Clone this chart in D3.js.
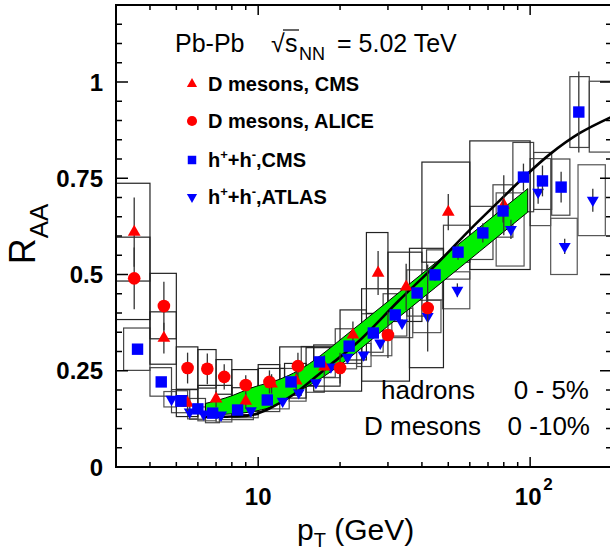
<!DOCTYPE html>
<html>
<head>
<meta charset="utf-8">
<script src="https://cdn.jsdelivr.net/npm/d3@7"></script>
<style>
  html, body { margin: 0; padding: 0; background: #fff; }
  svg { display: block; font-family: "Liberation Sans", Arial, Helvetica, sans-serif; }
</style>
</head>
<body>
<svg id="chart" width="610" height="554"></svg>
<script>
// Rows: [pT (GeV), R_AA, stat. error, syst. error, bin low, bin high]
const dMesonsALICE = [
  [3.5, 0.49, 0.08, 0.107, 3, 4],
  [4.5, 0.418, 0.063, 0.085, 4, 5],
  [5.5, 0.257, 0.04, 0.055, 5, 6],
  [6.5, 0.255, 0.04, 0.05, 6, 7],
  [7.5, 0.234, 0.033, 0.045, 7, 8],
  [9, 0.213, 0.025, 0.04, 8, 10],
  [11, 0.221, 0.03, 0.045, 10, 12],
  [14, 0.262, 0.035, 0.05, 12, 16],
  [20, 0.257, 0.04, 0.06, 16, 24],
  [30, 0.343, 0.06, 0.12, 24, 36],
  [42, 0.413, 0.113, 0.155, 36, 48]
];

const dMesonsCMS = [
  [3.5, 0.61, 0.09, 0.127, 3, 4],
  [4.5, 0.335, 0.04, 0.068, 4, 5],
  [5.5, 0.166, 0.02, 0.035, 5, 6],
  [7, 0.177, 0.022, 0.035, 6, 8],
  [9, 0.171, 0.02, 0.035, 8, 10],
  [11.2, 0.216, 0.025, 0.04, 10, 12.5],
  [13.8, 0.224, 0.025, 0.045, 12.5, 15],
  [17.5, 0.26, 0.03, 0.05, 15, 20],
  [22.3, 0.343, 0.035, 0.065, 20, 25],
  [27.6, 0.504, 0.057, 0.105, 25, 30],
  [35, 0.468, 0.06, 0.09, 30, 40],
  [50, 0.662, 0.047, 0.13, 40, 60],
  [80, 0.68, 0.078, 0.167, 60, 100]
];

const hadronsCMS = [
  [3.6, 0.306, 0.005, 0.055, 3.2, 4],
  [4.4, 0.221, 0.004, 0.037, 4, 4.8],
  [5.2, 0.171, 0.003, 0.03, 4.8, 5.6],
  [6.0, 0.151, 0.003, 0.027, 5.6, 6.4],
  [6.8, 0.140, 0.003, 0.025, 6.4, 7.2],
  [8.4, 0.148, 0.003, 0.025, 7.2, 9.6],
  [10.8, 0.174, 0.004, 0.03, 9.6, 12],
  [13.2, 0.221, 0.004, 0.035, 12, 14.4],
  [16.8, 0.273, 0.005, 0.04, 14.4, 19.2],
  [21.6, 0.314, 0.006, 0.045, 19.2, 24],
  [26.5, 0.348, 0.008, 0.05, 24, 28.8],
  [31.9, 0.395, 0.01, 0.055, 28.8, 35.2],
  [38.4, 0.452, 0.012, 0.06, 35.2, 41.6],
  [44.7, 0.499, 0.015, 0.065, 41.6, 48],
  [54.3, 0.558, 0.02, 0.07, 48, 60],
  [67, 0.608, 0.025, 0.069, 60, 73],
  [79.5, 0.665, 0.03, 0.068, 73, 86.4],
  [94.5, 0.753, 0.035, 0.09, 86.4, 103],
  [111, 0.743, 0.04, 0.074, 103, 120],
  [130, 0.727, 0.04, 0.073, 120, 140],
  [151, 0.922, 0.105, 0.092, 140, 165],
  [210, 0.91, 0.1, 0.092, 165, 250]
];

const hadronsATLAS = [
  [4.8, 0.176, 0.003, 0.02, 4.5, 5],
  [5.25, 0.178, 0.003, 0.02, 5, 5.5],
  [5.6, 0.143, 0.003, 0.018, 5.5, 6],
  [6.3, 0.138, 0.003, 0.018, 6, 7],
  [7.3, 0.135, 0.003, 0.018, 7, 8],
  [9.4, 0.146, 0.003, 0.018, 8, 10],
  [12.3, 0.171, 0.004, 0.02, 10, 13],
  [14.1, 0.193, 0.004, 0.022, 13, 15],
  [16.3, 0.219, 0.005, 0.025, 15, 17.5],
  [18.5, 0.26, 0.005, 0.028, 17.5, 20],
  [21.3, 0.285, 0.006, 0.03, 20, 23],
  [24.4, 0.291, 0.006, 0.03, 23, 26],
  [28.1, 0.322, 0.008, 0.033, 26, 31],
  [33.8, 0.374, 0.01, 0.038, 31, 37],
  [42, 0.391, 0.013, 0.042, 37, 47],
  [54, 0.459, 0.018, 0.048, 47.6, 60],
  [85, 0.617, 0.025, 0.095, 75, 95],
  [107, 0.714, 0.03, 0.087, 100, 119],
  [134, 0.573, 0.02, 0.073, 119, 149],
  [170, 0.693, 0.03, 0.092, 150, 189]
];

// Model band for hadrons (lower / upper edge) and the model curve
const bandPt    = [6.4, 8, 9.4, 12, 14, 17, 20, 30, 45, 65, 98];
const bandUpper = [0.165, 0.185, 0.205, 0.228, 0.25, 0.29, 0.33, 0.43, 0.531, 0.622, 0.723];
const bandLower = [0.135, 0.138, 0.143, 0.165, 0.195, 0.23, 0.265, 0.366, 0.467, 0.559, 0.662];

const curvePt = [6.2, 8, 9.5, 11, 13.4, 16, 18.4, 23.7, 33, 45, 60, 73, 94, 118, 152, 200];
const curveR  = [0.13, 0.131, 0.135, 0.152, 0.187, 0.23, 0.265, 0.33, 0.433, 0.525, 0.616, 0.675, 0.75, 0.812, 0.867, 0.91];

// Axis ticks
const xMajorTicks = [10, 100];
const xMinorTicks = [4, 5, 6, 7, 8, 9, 20, 30, 40, 50, 60, 70, 80, 90, 200];
const yMajorTicks = [0, 0.25, 0.5, 0.75, 1];
const yMinorTicks = [0.05, 0.1, 0.15, 0.2, 0.3, 0.35, 0.4, 0.45, 0.55, 0.6, 0.65, 0.7, 0.8, 0.85, 0.9, 0.95, 1.05, 1.1, 1.15];
const yTickLabels = ["0", "0.25", "0.5", "0.75", "1"];

const W = 610, H = 554;
const X0 = 116, X1 = 612, Y0 = 467, Y1 = 5;

const x = d3.scaleLog().domain([3, 200]).range([X0, X1]);
const y = d3.scaleLinear().domain([0, 1.2]).range([Y0, Y1]);

const svg = d3.select("#chart");
svg.append("rect").attr("width", W).attr("height", H).attr("fill", "#fff");

svg.append("defs").append("clipPath").attr("id", "plotArea")
  .append("rect").attr("x", X0).attr("y", Y1).attr("width", X1 - X0).attr("height", Y0 - Y1);

const plot = svg.append("g").attr("clip-path", "url(#plotArea)");

// Systematic uncertainty boxes
function sysBoxes(data, stroke) {
  plot.append("g").selectAll("rect").data(data).join("rect")
    .attr("x", d => x(d[4]))
    .attr("width", d => x(d[5]) - x(d[4]))
    .attr("y", d => y(d[1] + d[3]))
    .attr("height", d => y(d[1] - d[3]) - y(d[1] + d[3]))
    .attr("fill", "none")
    .attr("stroke", stroke)
    .attr("stroke-width", 1.2);
}
sysBoxes(hadronsATLAS, "#555");
sysBoxes(hadronsCMS, "#444");
sysBoxes(dMesonsALICE, "#222");
sysBoxes(dMesonsCMS, "#222");

// Model band
const bandData = bandPt.map((p, i) => ({ p, lo: bandLower[i], hi: bandUpper[i] }));
plot.append("path").datum(bandData)
  .attr("d", d3.area().x(d => x(d.p)).y0(d => y(d.lo)).y1(d => y(d.hi)).curve(d3.curveMonotoneX))
  .attr("fill", "#00f000")
  .attr("stroke", "#000")
  .attr("stroke-width", 1);

// Model curve
const curveData = curvePt.map((p, i) => ({ p, r: curveR[i] }));
plot.append("path").datum(curveData)
  .attr("d", d3.line().x(d => x(d.p)).y(d => y(d.r)).curve(d3.curveCatmullRom.alpha(0.5)))
  .attr("fill", "none")
  .attr("stroke", "#000")
  .attr("stroke-width", 2.6);

// Statistical error bars and markers
function series(data, color, symbolType, size, flip) {
  const g = plot.append("g");
  g.selectAll("line").data(data).join("line")
    .attr("x1", d => x(d[0])).attr("x2", d => x(d[0]))
    .attr("y1", d => y(d[1] - d[2])).attr("y2", d => y(d[1] + d[2]))
    .attr("stroke", "#333").attr("stroke-width", 1.3);
  g.selectAll("path").data(data).join("path")
    .attr("d", d3.symbol().type(symbolType).size(size))
    .attr("transform", d => `translate(${x(d[0])},${y(d[1])})` + (flip ? " rotate(180)" : ""))
    .attr("fill", color);
}
series(hadronsATLAS, "#0000ff", d3.symbolTriangle, 62, true);
series(dMesonsALICE, "#ff0000", d3.symbolCircle, 125, false);
series(dMesonsCMS, "#ff0000", d3.symbolTriangle, 70, false);
series(hadronsCMS, "#0000ff", d3.symbolSquare, 130, false);

// Frame and ticks
const axes = svg.append("g").attr("stroke", "#000");
axes.append("rect").attr("x", X0).attr("y", Y1).attr("width", X1 - X0).attr("height", Y0 - Y1)
  .attr("fill", "none").attr("stroke-width", 2);

function xTicks(vals, len) {
  axes.append("g").selectAll("line").data(vals).join("line")
    .attr("x1", d => x(d)).attr("x2", d => x(d))
    .attr("y1", Y0).attr("y2", Y0 - len).attr("stroke-width", 1.5);
  axes.append("g").selectAll("line").data(vals).join("line")
    .attr("x1", d => x(d)).attr("x2", d => x(d))
    .attr("y1", Y1).attr("y2", Y1 + len).attr("stroke-width", 1.5);
}
xTicks(xMajorTicks, 10);
xTicks(xMinorTicks, 5);

function yTicks(vals, len) {
  axes.append("g").selectAll("line").data(vals).join("line")
    .attr("x1", X0).attr("x2", X0 + len)
    .attr("y1", d => y(d)).attr("y2", d => y(d)).attr("stroke-width", 1.5);
  axes.append("g").selectAll("line").data(vals).join("line")
    .attr("x1", X1).attr("x2", X1 - len)
    .attr("y1", d => y(d)).attr("y2", d => y(d)).attr("stroke-width", 1.5);
}
yTicks(yMajorTicks, 12);
yTicks(yMinorTicks, 6);

// Tick labels
svg.append("g").selectAll("text").data(yMajorTicks).join("text")
  .attr("x", 103).attr("y", d => y(d) + 8.5)
  .attr("text-anchor", "end")
  .style("font-size", "24px").style("font-weight", "bold")
  .text((d, i) => yTickLabels[i]);

svg.append("text").attr("x", x(10)).attr("y", 505).attr("text-anchor", "middle")
  .style("font-size", "24px").style("font-weight", "bold").text("10");
svg.append("text").attr("x", x(100) - 2).attr("y", 505).attr("text-anchor", "middle")
  .style("font-size", "24px").style("font-weight", "bold").text("10");
svg.append("text").attr("x", x(100) + 13).attr("y", 490)
  .style("font-size", "17px").style("font-weight", "bold").text("2");

// Axis titles
const xt = svg.append("text").attr("x", 297).attr("y", 540).style("font-size", "30px");
xt.append("tspan").text("p");
xt.append("tspan").attr("dy", 7).style("font-size", "20px").text("T");
xt.append("tspan").attr("dy", -7).text(" (GeV)");

const yt = svg.append("text").attr("transform", "translate(35,234) rotate(-90)")
  .attr("text-anchor", "middle").style("font-size", "36px");
yt.append("tspan").text("R");
yt.append("tspan").attr("dy", 13).style("font-size", "26px").text("AA");

// Header
svg.append("text").attr("x", 175).attr("y", 52).style("font-size", "25px").text("Pb-Pb");
svg.append("text").attr("x", 271).attr("y", 52).style("font-size", "25px").text("\u221A");
svg.append("text").attr("x", 285).attr("y", 52).style("font-size", "25px").text("s");
svg.append("line").attr("x1", 283).attr("x2", 299).attr("y1", 30).attr("y2", 30)
  .attr("stroke", "#000").attr("stroke-width", 1.2);
svg.append("text").attr("x", 299).attr("y", 60).style("font-size", "18px").text("NN");
svg.append("text").attr("x", 337).attr("y", 52).style("font-size", "25px").text("= 5.02 TeV");

// Legend
const legendItems = [
  { label: "D mesons, CMS", color: "#ff0000", type: d3.symbolTriangle, size: 45, flip: false, y: 84 },
  { label: "D mesons, ALICE", color: "#ff0000", type: d3.symbolCircle, size: 80, flip: false, y: 121 },
  { label: "CMS", color: "#0000ff", type: d3.symbolSquare, size: 72, flip: false, y: 160 },
  { label: "ATLAS", color: "#0000ff", type: d3.symbolTriangle, size: 45, flip: true, y: 197 }
];
const legend = svg.append("g");
legendItems.forEach(it => {
  legend.append("path")
    .attr("d", d3.symbol().type(it.type).size(it.size)())
    .attr("transform", `translate(192,${it.y})` + (it.flip ? " rotate(180)" : ""))
    .attr("fill", it.color);
  const t = legend.append("text").attr("x", 208).attr("y", it.y + 7)
    .style("font-size", "20px").style("font-weight", "bold");
  if (it.color === "#0000ff") {
    t.append("tspan").text("h");
    t.append("tspan").attr("dy", -8).style("font-size", "13px").text("+");
    t.append("tspan").attr("dy", 8).text("+h");
    t.append("tspan").attr("dy", -8).style("font-size", "13px").text("-");
    t.append("tspan").attr("dy", 8).text("," + it.label);
  } else {
    t.text(it.label);
  }
});

// Centrality notes
svg.append("text").attr("x", 381).attr("y", 399).style("font-size", "26px").text("hadrons");
svg.append("text").attr("x", 589).attr("y", 399).attr("text-anchor", "end").style("font-size", "26px").text("0 - 5%");
svg.append("text").attr("x", 364).attr("y", 435).style("font-size", "26px").text("D mesons");
svg.append("text").attr("x", 590).attr("y", 435).attr("text-anchor", "end").style("font-size", "26px").text("0 -10%");
</script>
</body>
</html>
